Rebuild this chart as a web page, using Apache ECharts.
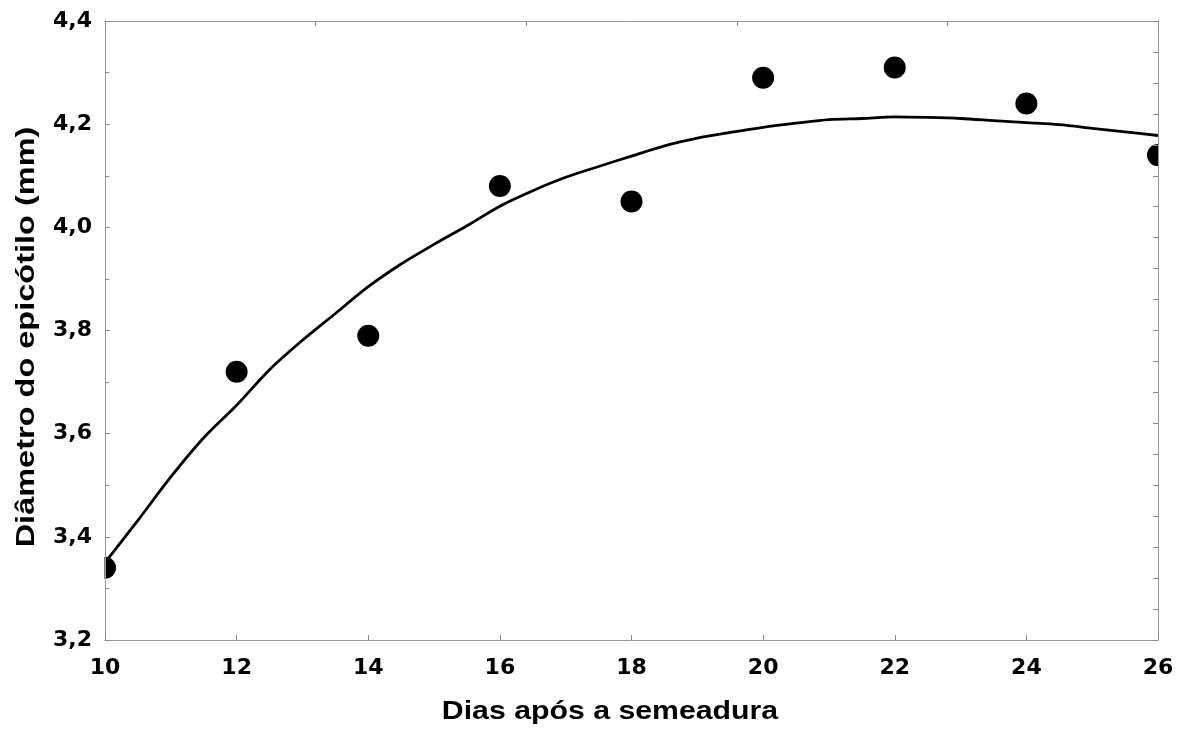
<!DOCTYPE html>
<html>
<head>
<meta charset="utf-8">
<script src="https://cdn.jsdelivr.net/npm/echarts@6/dist/echarts.min.js"></script>
<style>html,body{margin:0;padding:0;background:#fff}#c{width:1188px;height:740px}</style>
</head>
<body>
<div id="c"></div>
<script>
// Observed data (days after sowing, epicotyl diameter mm)
const days = [10, 12, 14, 16, 18, 20, 22, 24, 26];
const diameter = [3.34, 3.72, 3.79, 4.08, 4.05, 4.29, 4.31, 4.24, 4.14];
// Fitted curve
const curveDays = [10, 10.5, 11, 11.5, 12, 12.5, 13, 13.5, 14, 14.5, 15, 15.5, 16, 16.5, 17, 17.5, 18, 18.5, 19, 19.5, 20, 20.5, 21, 21.5, 22, 22.5, 23, 23.5, 24, 24.5, 25, 25.5, 26];
const curveDiameter = [3.350, 3.432, 3.516, 3.592, 3.655, 3.724, 3.781, 3.833, 3.885, 3.929, 3.967, 4.003, 4.041, 4.071, 4.097, 4.118, 4.138, 4.158, 4.173, 4.184, 4.194, 4.202, 4.209, 4.211, 4.214, 4.213, 4.211, 4.207, 4.203, 4.199, 4.192, 4.185, 4.178];
const xTitle = 'Dias após a semeadura';
const yTitle = 'Diâmetro do epicótilo (mm)';

const W = 1188, H = 740;
const G = {left: 105, right: 30, top: 21, bottom: 100};
const FONT = '"DejaVu Sans", "Liberation Sans", Arial, sans-serif';
const TFONT = '"Liberation Sans", Arial, sans-serif';
const chart = echarts.init(document.getElementById('c'));
const lbl = {color: '#000', fontFamily: FONT, fontWeight: 'bold', fontSize: 22};
const tickStyle = {color: '#888', width: 1};
const lineStyle = {color: '#999', width: 1};
chart.setOption({
  animation: false,
  backgroundColor: '#fff',
  grid: Object.assign({show: false}, G),
  xAxis: [{
    type: 'value', min: 10, max: 26, interval: 2, z: 10,
    axisLine: {onZero: false, lineStyle: lineStyle},
    axisTick: {inside: true, length: 5, lineStyle: tickStyle},
    splitLine: {show: false},
    axisLabel: Object.assign({margin: 17}, lbl)
  }, {
    type: 'value', position: 'top', min: 0, max: 5, interval: 1, z: 10,
    axisLine: {show: true, onZero: false, lineStyle: lineStyle},
    axisTick: {inside: true, length: 5, lineStyle: tickStyle},
    splitLine: {show: false}, axisLabel: {show: false}
  }],
  yAxis: [{
    type: 'value', min: 3.2, max: 4.4, interval: 0.2, z: 10,
    axisLine: {show: true, onZero: false, lineStyle: lineStyle},
    axisTick: {inside: true, length: 5, lineStyle: tickStyle},
    minorTick: {show: true, splitNumber: 2, length: 4, lineStyle: tickStyle},
    splitLine: {show: false},
    axisLabel: Object.assign({margin: 13, formatter: v => v.toFixed(1).replace('.', ',')}, lbl)
  }, {
    type: 'value', position: 'right', min: 0, max: 20, interval: 1, z: 10,
    axisLine: {show: true, onZero: false, lineStyle: lineStyle},
    axisTick: {inside: true, length: 5, lineStyle: tickStyle},
    splitLine: {show: false}, axisLabel: {show: false}
  }],
  graphic: [
    // white masks outside the plot area so edge markers are clipped like in the original
    {type: 'rect', z: 5, silent: true, shape: {x: 0, y: 0, width: G.left - 0.5, height: H}, style: {fill: '#fff'}},
    {type: 'rect', z: 5, silent: true, shape: {x: W - G.right + 0.5, y: 0, width: G.right, height: H}, style: {fill: '#fff'}},
    {type: 'text', z: 12, x: 610, y: 712, scaleX: 1.21,
      style: {text: xTitle, font: 'bold 25px ' + TFONT, fill: '#000', align: 'center', verticalAlign: 'middle'}},
    {type: 'text', z: 12, rotation: Math.PI / 2, x: 27, y: 337, scaleX: 1.3,
      style: {text: yTitle, font: 'bold 25px ' + TFONT, fill: '#000', align: 'center', verticalAlign: 'middle'}}
  ],
  series: [{
    type: 'line', xAxisIndex: 0, yAxisIndex: 0,
    data: curveDays.map((d, i) => [d, curveDiameter[i]]),
    smooth: 0.3, showSymbol: false, symbol: 'none',
    lineStyle: {color: '#000', width: 2.8}, z: 2
  }, {
    type: 'scatter', xAxisIndex: 0, yAxisIndex: 0,
    data: days.map((d, i) => [d, diameter[i]]),
    symbol: 'circle', symbolSize: 22,
    itemStyle: {color: '#000', opacity: 1}, z: 3
  }]
});
</script>
</body>
</html>
